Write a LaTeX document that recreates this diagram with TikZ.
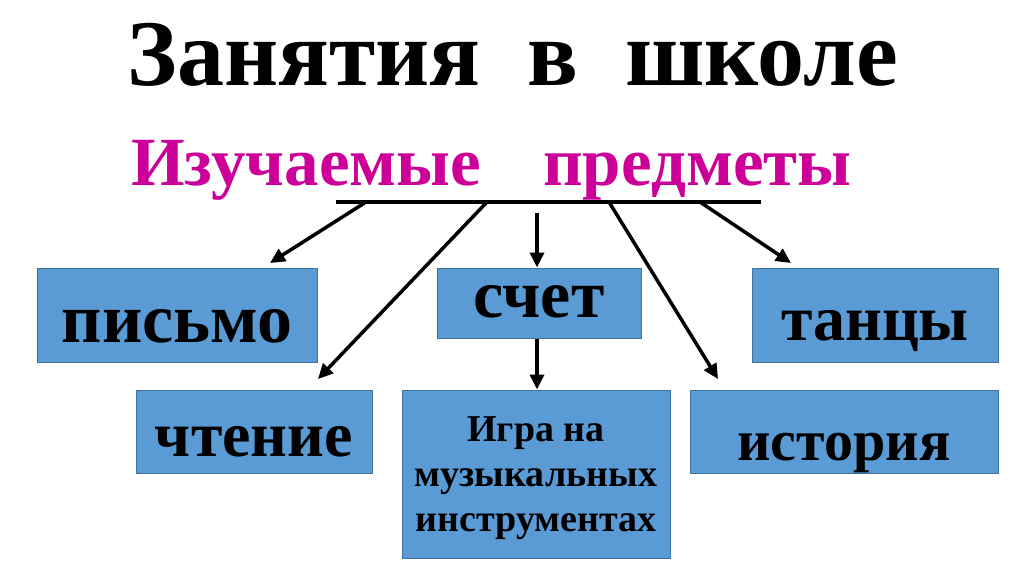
\documentclass[tikz,border=0pt]{standalone}
\usepackage{fontspec}
\setmainfont{Liberation Serif}
\usetikzlibrary{arrows.meta, positioning}
\definecolor{boxblue}{HTML}{5B9BD5}
\definecolor{boxedge}{HTML}{41719C}
\definecolor{subjpink}{HTML}{CC0099}

\begin{document}
\begin{tikzpicture}[x=1pt, y=-1pt,
  subj/.style={draw=boxedge, fill=boxblue, line width=1pt, inner sep=0pt,
    text height=49pt, text depth=0pt, font=\bfseries\fontsize{64}{70}\selectfont},
  multi/.style={draw=boxedge, fill=boxblue, line width=1pt, inner sep=0pt,
    align=center, text depth=0pt, font=\bfseries\fontsize{38}{45}\selectfont},
  arrow/.style={-{Triangle[length=15pt, width=14pt]}, line width=3.5pt},
  bar/.style={line width=4pt}]
  \useasboundingbox (0,0) rectangle (1024,574);
  % headings
  \node[anchor=base, font=\bfseries\fontsize{94}{100}\selectfont] (title) at (513,85) {Занятия\ \ в\ \ школе};
  \node[anchor=base west, inner sep=0pt, text=subjpink, font=\bfseries\fontsize{69}{72}\selectfont] (subtitle) at (131,185) {Изучаемые\hspace{62pt}предметы};
  % subjects
  \node[subj, minimum width=280pt, minimum height=94pt, text height=54pt,
    font=\bfseries\fontsize{70}{76}\selectfont] (pismo) at (177,315) {письмо};
  \node[subj, minimum width=204pt, minimum height=70pt, text height=28pt,
    font=\bfseries\fontsize{68}{74}\selectfont] (schet) at (539,303) {счет};
  \node[subj, minimum width=246pt, minimum height=94pt] (tancy) at (875,315.5) {танцы};
  \node[subj, minimum width=236pt, minimum height=83pt] (chtenie) at (254,431.5) {чтение};
  \node[subj, minimum width=308pt, minimum height=83pt, text height=57pt,
    font=\bfseries\fontsize{58}{64}\selectfont] (istoriya) at (844,431.5) {история};
  \node[multi, minimum width=268pt, minimum height=168pt] (igra) at (536,474)
    {Игра на\\музыкальных\\инструментах};
  % bar under the subtitle
  \coordinate (barL) at (336,202);
  \coordinate (barR) at (761,202);
  \draw[bar] (barL) -- (barR);
  \coordinate (s1) at (366,202);
  \coordinate (s2) at (487,202);
  \coordinate (s3) at (537,213);
  \coordinate (s4) at (609,202);
  \coordinate (s5) at (700,202);
  \coordinate (t1) at (270,263);
  \coordinate (t2) at (318,379);
  \coordinate (t4) at (718,379);
  \coordinate (t5) at (791,263);
  \draw[arrow] (s1) -- (t1);
  \draw[arrow] (s2) -- (t2);
  \draw[arrow] (s3) -- (s3 |- schet.north);
  \draw[arrow] (s3 |- schet.south) -- (s3 |- igra.north);
  \draw[arrow] (s4) -- (t4);
  \draw[arrow] (s5) -- (t5);
\end{tikzpicture}
\end{document}
